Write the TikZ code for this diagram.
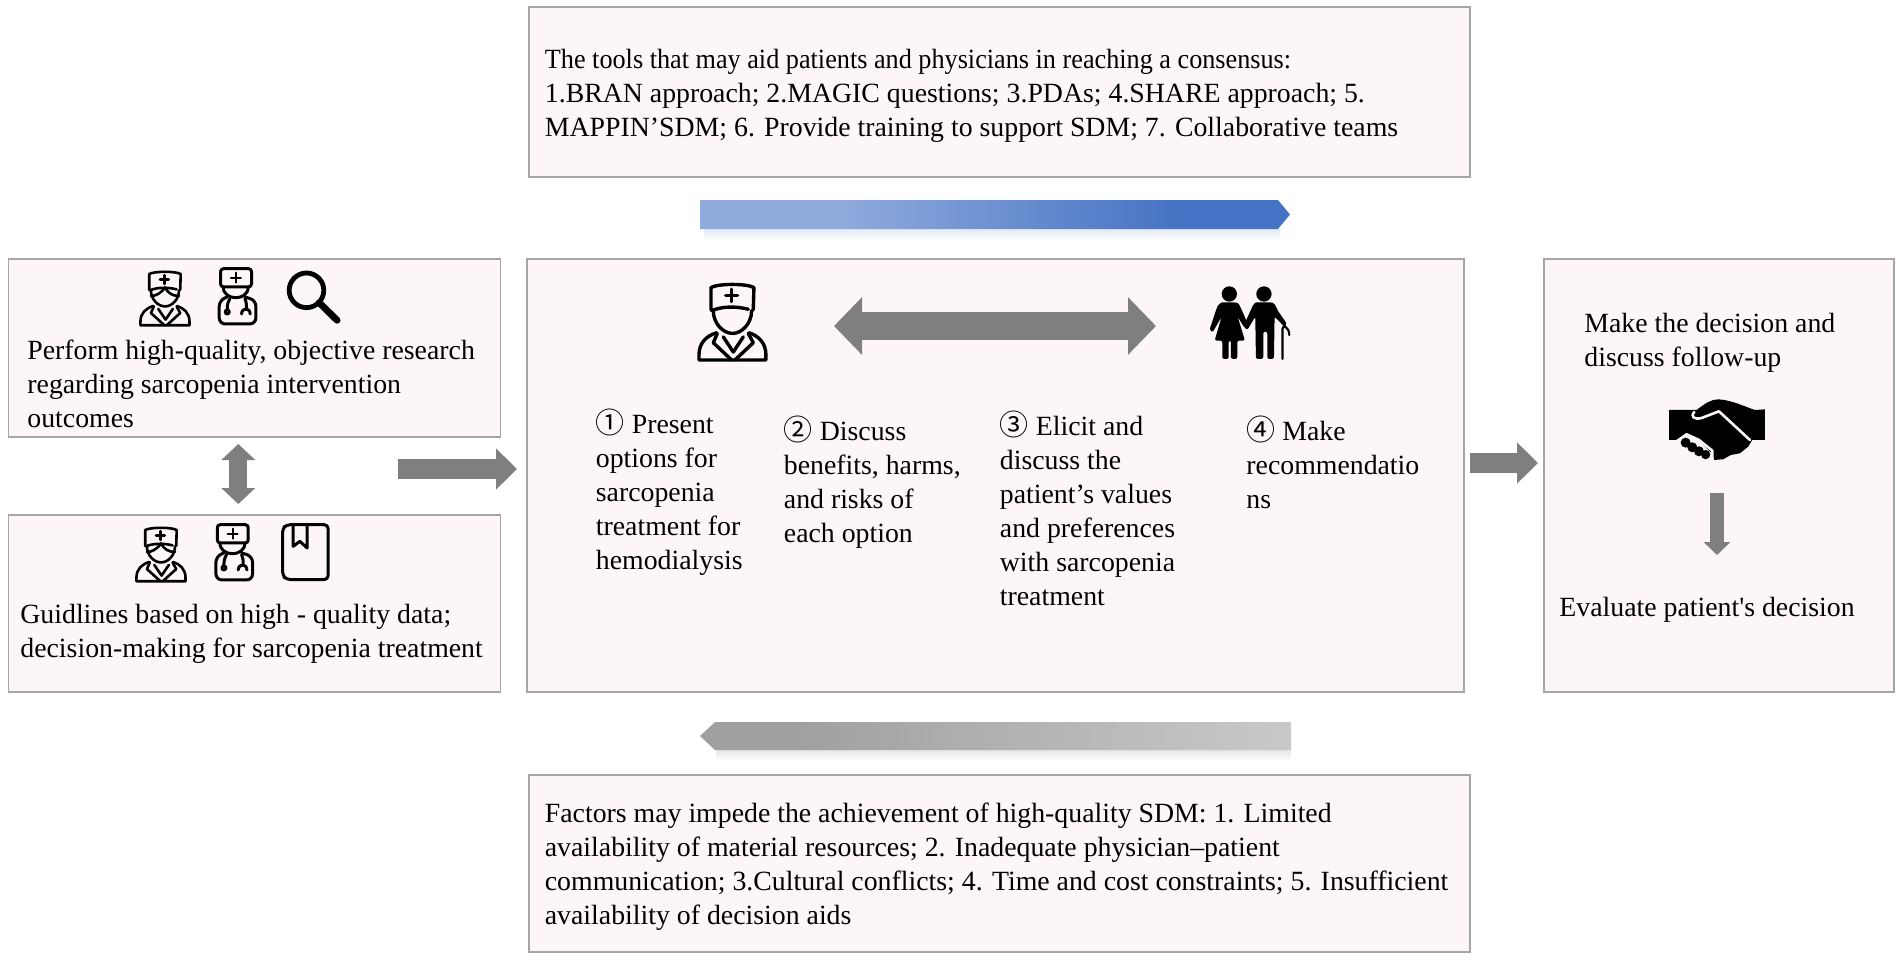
\documentclass[tikz,border=0pt]{standalone}
\usepackage{fontspec}
\usepackage{xcolor}
\usepackage{tikz}
\usetikzlibrary{arrows.meta}
\setmainfont{Liberation Serif}
\newfontfamily\circfont{Noto Sans CJK SC}
\newcommand{\circnum}[1]{{\circfont\fontsize{14.5}{17}\selectfont #1}}
\newcommand{\squeezed}[1]{\scalebox{.943}[1]{#1}}
\newcommand{\medicpaths}{
        \draw[icon] (78,110) -- (78,45) .. controls (100,33) and (185,33) .. (207,45) -- (205,110);
        \draw[icon] (80,112) .. controls (110,100) and (150,98) .. (190,108);
        \draw[icon] (85,112) .. controls (85,150) and (115,178) .. (143,178) .. controls (170,178) and (200,150) .. (200,112);
        \draw[icon] (95,176) .. controls (65,185) and (42,205) .. (42,240) -- (42,255) -- (243,255) -- (243,240) .. controls (243,205) and (220,185) .. (192,176);
        \draw[icon] (97,178) -- (85,205) -- (140,255) (190,178) -- (205,205) -- (150,255) (115,188) -- (145,232) -- (175,188);
        \draw[icon] (140,50) -- (140,86) (122,68) -- (158,68);
}
\definecolor{panelpink}{HTML}{FDF6F6}
\definecolor{panelgray}{HTML}{A6A6A6}
\definecolor{arrowgray}{HTML}{7F7F7F}
\definecolor{flowlight}{HTML}{8FAADC}
\definecolor{flowdark}{HTML}{4472C4}
\definecolor{ashlight}{HTML}{C9C9C9}
\definecolor{ashdark}{HTML}{A0A0A0}
\pgfdeclarehorizontalshading{blueflow}{100bp}{color(0bp)=(flowlight); color(37bp)=(flowlight); color(66bp)=(flowdark); color(100bp)=(flowdark)}
\pgfdeclarehorizontalshading{grayflow}{100bp}{color(0bp)=(ashdark); color(33bp)=(ashdark); color(75bp)=(ashlight); color(100bp)=(ashlight)}
\tikzset{
    panel/.style={draw=panelgray, line width=.7pt, fill=panelpink, anchor=north west, outer sep=0pt, inner sep=0pt},
    copy/.style={anchor=north west, inner sep=0pt, align=left, font=\fontsize{13.9}{17}\selectfont, execute at begin node=\strut},
    fatarrow/.style={arrowgray, line width=10pt, -{Triangle[length=10.5pt,width=20pt]}},
    icon/.style={line cap=round, line join=round},
    medic/.pic={
        \medicpaths
    },
    maskedmedic/.pic={
        \medicpaths
        \draw[icon] (85,135) .. controls (105,135) and (125,125) .. (143,100) .. controls (155,125) and (175,135) .. (200,135);
    },
    stethmedic/.pic={
        \draw[icon, rounded corners=1.5pt] (272,75) -- (272,20) -- (365,20) -- (365,75) -- cycle;
        \draw[icon] (280,75) .. controls (280,118) and (355,118) .. (355,75);
        \draw[icon, rounded corners=3pt] (292,105) -- (268,115) -- (268,186) -- (378,186) -- (378,115) -- (345,105);
        \draw[icon, line width=1pt] (318,32) -- (318,62) (303,47) -- (333,47);
        \draw[icon] (300,110) .. controls (292,122) and (292,135) .. (292,143) (345,110) .. controls (350,122) and (350,130) .. (350,140);
        \draw[icon] (292,150) circle[radius=6];
        \draw[icon] (335,156) .. controls (336,136) and (360,136) .. (361,156);
    },
    lens/.pic={
        \draw[icon] (530,85) circle[radius=52];
        \draw[icon, line width=3.4pt] (568,122) -- (622,175);
    },
    guidebook/.pic={
        \draw[icon, rounded corners=2pt] (595,20) -- (470,20) -- (458,32) -- (458,172) -- (470,185) -- (595,185) -- cycle;
        \draw[icon] (490,22) -- (490,85) -- (510,70) -- (532,90) -- (532,22);
    },
    elders/.pic={
        \fill (88,57) circle[radius=23] (192,57) circle[radius=23];
        \fill[rounded corners=1pt] (70,82) -- (106,82) .. controls (118,85) and (125,105) .. (145,150) -- (133,158) -- (113,125) -- (135,197) -- (112,197) -- (112,252) -- (93,252) -- (93,197) -- (86,197) -- (86,252) -- (67,252) -- (67,197) -- (44,197) -- (65,125) -- (38,172) -- (28,166) -- (50,100) .. controls (55,88) and (62,84) .. cycle;
        \fill[rounded corners=1pt] (172,82) -- (212,82) .. controls (222,84) and (228,92) .. (232,105) -- (262,148) -- (254,156) -- (224,125) -- (222,252) -- (202,252) -- (202,170) -- (190,170) -- (190,252) -- (168,252) -- (166,125) -- (142,165) -- (130,155) -- (155,100) .. controls (160,88) and (165,84) .. cycle;
        \draw[icon, line width=1.1pt] (248,252) -- (248,160) .. controls (248,150) and (268,155) .. (268,180);
    },
    handshake/.pic={
        \fill (42,60) -- (100,60) -- (125,60) .. controls (150,40) and (170,28) .. (190,28) .. controls (230,30) and (270,50) .. (300,60) -- (330,58) -- (330,150) -- (292,150) -- (280,170) -- (255,190) -- (228,195) -- (205,208) -- (178,210) -- (170,190) -- (130,150) -- (95,135) -- (70,150) -- (42,150) -- cycle;
        \fill (92,158) circle[radius=15] (112,172) circle[radius=15] (132,184) circle[radius=15] (152,194) circle[radius=14];
        \draw[panelpink, icon, line width=1.3pt] (285,150) -- (192,64) -- (140,84) .. controls (118,90) and (105,80) .. (118,66) (62,156) -- (95,133) -- (132,150) -- (172,182) -- (172,212);
    },
}
\begin{document}
\begin{tikzpicture}[x=.5pt, y=-.5pt]
            \useasboundingbox (0,0) rectangle (1902,960);
            \node[panel, minimum width=470.5pt, minimum height=85pt] (tools) at (529,7) {};
            \node[panel, minimum width=246pt, minimum height=89pt] (research) at (8.5,259) {};
            \node[panel, minimum width=246pt, minimum height=88.5pt] (guide) at (8.5,515) {};
            \node[panel, minimum width=468.5pt, minimum height=216.5pt] (shared) at (527,259) {};
            \node[panel, minimum width=175pt, minimum height=216.5pt] (decide) at (1544,259) {};
            \node[panel, minimum width=470.5pt, minimum height=88.5pt] (barriers) at (529,775) {};

            \node[copy] (toolstext) at (544.5,49) {\squeezed{The tools that may aid patients and physicians in reaching a consensus:}\\
                1.BRAN approach; 2.MAGIC questions; 3.PDAs; 4.SHARE approach; 5.\\
                MAPPIN’SDM; 6. Provide training to support SDM; 7. Collaborative teams};
            \node[copy] (researchtext) at (27,340) {Perform high-quality, objective research\\regarding sarcopenia intervention\\outcomes};
            \node[copy] (guidetext) at (20,604) {Guidlines based on high - quality data;\\decision-making for sarcopenia treatment};
            \node[copy] (stepone) at (595.5,409) {\circnum{①} Present\\options for\\sarcopenia\\treatment for\\hemodialysis};
            \node[copy] (steptwo) at (783.5,416) {\circnum{②} Discuss\\benefits, harms,\\and risks of\\each option};
            \node[copy] (stepthree) at (999.5,411) {\circnum{③} Elicit and\\discuss the\\patient’s values\\and preferences\\with sarcopenia\\treatment};
            \node[copy] (stepfour) at (1246,416) {\circnum{④} Make\\recommendatio\\ns};
            \node[copy] (decidetext) at (1584,313) {Make the decision and\\discuss follow-up};
            \node[copy] (evaluate) at (1559,592) {Evaluate patient\textquotesingle s decision};
            \node[copy] (barrierstext) at (544.5,803) {Factors may impede the achievement of high-quality SDM: 1. Limited\\
                availability of material resources; 2. Inadequate physician–patient\\
                communication; 3.Cultural conflicts; 4. Time and cost constraints; 5. Insufficient\\
                availability of decision aids};

            \pic[scale=.244, line width=1.3pt] (maskone) at (130.2,263) {maskedmedic};
            \pic[scale=.333, line width=1.5pt] (stethone) at (130,262) {stethmedic};
            \pic[scale=.333, line width=2.4pt] (lookup) at (130,262) {lens};
            \pic[scale=.244, line width=1.3pt] (masktwo) at (126.2,519) {maskedmedic};
            \pic[scale=.333, line width=1.5pt] (stethtwo) at (126.7,518) {stethmedic};
            \pic[scale=.333, line width=1.5pt] (book) at (130,518) {guidebook};
            \pic[xscale=.333, yscale=.345, line width=1.7pt] (doctor) at (685,272) {medic};
            \pic[scale=.333] (couple) at (1200,275) {elders};
            \pic[scale=.333] (deal) at (1655,390) {handshake};

            \coordinate (feedstart) at (398,469);
            \coordinate (outlevel) at (1500,463);
            \coordinate (dialogleft) at (834,326);
            \coordinate (dialogright) at (1156,326);
            \coordinate (dealfoot) at (1717,493);
            \coordinate (evaltop) at (1717,555);

            \draw[arrowgray, line width=9pt, {Triangle[length=8pt,width=16.5pt]}-{Triangle[length=8pt,width=16.5pt]}, shorten <=3.5pt, shorten >=5.5pt] ([xshift=-8.1pt]research.south) -- ([xshift=-8.1pt]guide.north);
            \draw[fatarrow, shorten >=5pt] (feedstart) -- (feedstart -| shared.west);
            \draw[fatarrow, shorten <=3pt, shorten >=3pt] (outlevel -| shared.east) -- (outlevel -| decide.west);
            \draw[arrowgray, line width=14pt, {Triangle[length=14pt,width=28pt]}-{Triangle[length=14pt,width=28pt]}] (dialogleft) -- (dialogright);
            \draw[fatarrow, line width=7pt, -{Triangle[length=6.5pt,width=13pt]}] (dealfoot) -- (evaltop);

            \shade[top color=flowlight!25, bottom color=white] (704,229) rectangle (1280,241);
            \shade[shading=blueflow] (700,200) -- (1278,200) -- (1290,214.5) -- (1278,229) -- (700,229) -- cycle;
            \shade[top color=black!10, bottom color=white] (716,750) rectangle (1291,761);
            \shade[shading=grayflow] (700,736) -- (715,722) -- (1291,722) -- (1291,750) -- (715,750) -- cycle;
\end{tikzpicture}
\end{document}
